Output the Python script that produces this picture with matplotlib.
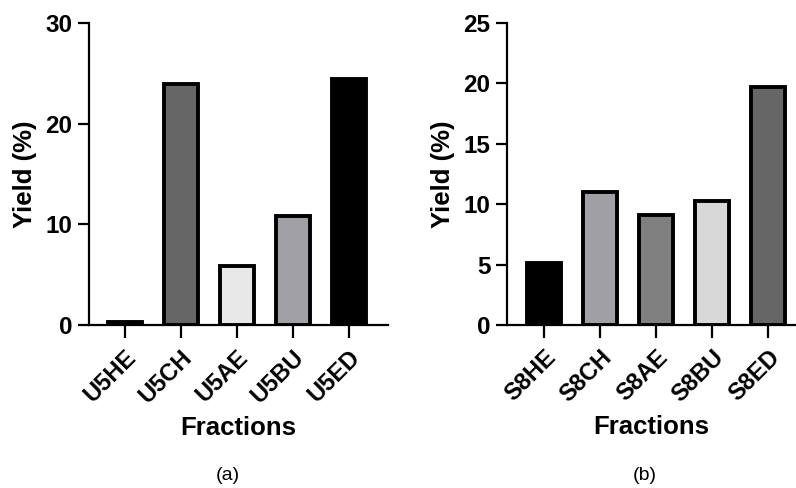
import matplotlib
matplotlib.use("Agg")
import matplotlib.pyplot as plt

plt.rcParams['font.family'] = ['Liberation Sans', 'DejaVu Sans']

cats_a = ["U5HE", "U5CH", "U5AE", "U5BU", "U5ED"]
vals_a = [0.25, 23.9, 5.9, 10.8, 24.4]
cols_a = ["#000000", "#666666", "#e8e8e8", "#a0a0a6", "#000000"]

cats_b = ["S8HE", "S8CH", "S8AE", "S8BU", "S8ED"]
vals_b = [5.1, 11.0, 9.1, 10.3, 19.7]
cols_b = ["#000000", "#a0a0a4", "#808080", "#d8d8d8", "#666666"]

fig = plt.figure(figsize=(7.96, 4.88), dpi=100)
ax1 = fig.add_axes([89/796, 1-325/488, 299/796, 302/488])
ax2 = fig.add_axes([507/796, 1-325/488, 289/796, 302/488])

def style(ax, cats, vals, cols, ymax, step, xlim):
    x = list(range(len(cats)))
    ax.bar(x, vals, width=0.6, color=cols, edgecolor="black", linewidth=2.8, zorder=3)
    ax.set_xlim(*xlim)
    ax.set_ylim(0, ymax)
    ax.set_yticks(list(range(0, ymax + 1, step)))
    ax.set_xticks(x)
    ax.set_xticklabels(cats, rotation=45, ha="right", rotation_mode="anchor",
                       fontsize=17, fontweight="bold")
    for lab in ax.get_yticklabels():
        lab.set_fontsize(17.5)
        lab.set_fontweight("bold")
    ax.spines["top"].set_visible(False)
    ax.spines["right"].set_visible(False)
    for s in ("left", "bottom"):
        ax.spines[s].set_linewidth(1.6)
    ax.tick_params(axis="y", length=8, width=1.6, pad=4)
    ax.tick_params(axis="x", length=9, width=1.6, pad=6)
    ax.set_ylabel("Yield (%)", fontsize=18.5, fontweight="bold", labelpad=6)
    ax.set_xlabel("Fractions", fontsize=18.5, fontweight="bold", labelpad=6)

style(ax1, cats_a, vals_a, cols_a, 30, 10, (-0.64, 4.7))
style(ax2, cats_b, vals_b, cols_b, 25, 5, (-0.66, 4.5))

fig.text(228/796, 1-476/488, "(a)", ha="center", va="center", fontsize=14)
fig.text(645/796, 1-476/488, "(b)", ha="center", va="center", fontsize=14)

fig.savefig("out.png", dpi=100)
